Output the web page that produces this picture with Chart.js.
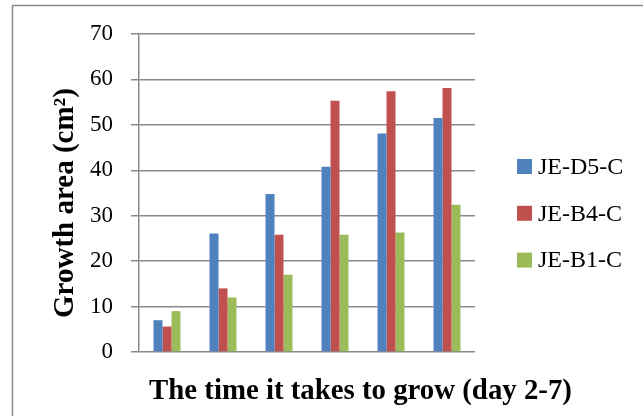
<!DOCTYPE html>
<html>
<head>
<meta charset="utf-8">
<script src="https://cdn.jsdelivr.net/npm/chart.js@4/dist/chart.umd.min.js"></script>
<style>
  html, body { margin: 0; padding: 0; background: #fff; }
  #c { display: block; }
</style>
</head>
<body>
<canvas id="c" width="643" height="416"></canvas>
<script>
// ---- data ----
const categories = ['Day 2', 'Day 3', 'Day 4', 'Day 5', 'Day 6', 'Day 7'];
const seriesNames = ['JE-D5-C', 'JE-B4-C', 'JE-B1-C'];
const jeD5 = [7.0, 26.1, 34.8, 40.8, 48.1, 51.5];
const jeB4 = [5.6, 14.0, 25.8, 55.3, 57.4, 58.1];
const jeB1 = [9.0, 12.0, 17.0, 25.8, 26.3, 32.4];
const yTicks = [0, 10, 20, 30, 40, 50, 60, 70];
const xTitle = 'The time it takes to grow (day 2-7)';
const yTitle = 'Growth area (cm\u00B2)';

const colors = ['#4F81BD', '#C0504D', '#9BBB59'];
const gridColor = '#8a8a8a';

function fitFont(ctx, text, weight, family, target) {
  ctx.font = weight + ' 20px ' + family;
  const w = ctx.measureText(text).width;
  return 20 * target / w;
}

const decor = {
  id: 'decor',
  beforeDraw(chart) {
    const ctx = chart.ctx;
    ctx.save();
    ctx.fillStyle = '#fff';
    ctx.fillRect(0, 0, chart.width, chart.height);
    ctx.strokeStyle = '#8c8c8c';
    ctx.lineWidth = 1.5;
    ctx.beginPath();
    ctx.moveTo(12.5, chart.height);
    ctx.lineTo(12.5, 5.5);
    ctx.lineTo(chart.width, 5.5);
    ctx.stroke();
    ctx.restore();
  },
  afterDraw(chart) {
    const ctx = chart.ctx;
    ctx.save();
    ctx.fillStyle = '#000';
    const fam = '"Liberation Serif", "Times New Roman", serif';
    // x title
    let fs = fitFont(ctx, xTitle, 'bold', fam, 423);
    ctx.font = 'bold ' + fs + 'px ' + fam;
    ctx.textAlign = 'center';
    ctx.textBaseline = 'alphabetic';
    ctx.fillText(xTitle, 360.5, 398.5);
    // y title
    ctx.font = 'bold 29px ' + fam;
    ctx.translate(73, 203);
    ctx.rotate(-Math.PI / 2);
    ctx.fillText(yTitle, 0, 0);
    ctx.setTransform(1, 0, 0, 1, 0, 0);
    // legend
    ctx.font = '24px ' + fam;
    ctx.textAlign = 'left';
    ctx.textBaseline = 'middle';
    chart.data.datasets.forEach((ds, i) => {
      const cy = 166.5 + 46.8 * i;
      ctx.fillStyle = ds.backgroundColor;
      ctx.fillRect(517, cy - 7.5, 15, 15);
      ctx.fillStyle = '#000';
      ctx.fillText(ds.label, 538, cy + 1);
    });
    ctx.restore();
  }
};

new Chart(document.getElementById('c'), {
  type: 'bar',
  data: {
    labels: categories,
    datasets: [
      { label: seriesNames[0], data: jeD5, backgroundColor: colors[0] },
      { label: seriesNames[1], data: jeB4, backgroundColor: colors[1] },
      { label: seriesNames[2], data: jeB1, backgroundColor: colors[2] }
    ]
  },
  options: {
    responsive: false,
    animation: false,
    devicePixelRatio: 1,
    categoryPercentage: 0.482,
    barPercentage: 1.0,
    layout: { padding: { left: 0, top: 34, right: 168, bottom: 0 } },
    plugins: { legend: { display: false }, tooltip: { enabled: false }, title: { display: false } },
    scales: {
      x: {
        grid: { display: false },
        border: { display: false },
        ticks: { display: false },
        afterFit(scale) { scale.height = 64; }
      },
      y: {
        min: yTicks[0],
        max: yTicks[yTicks.length - 1],
        afterBuildTicks(scale) { scale.ticks = yTicks.map(v => ({ value: v })); },
        ticks: {
          padding: 18,
          color: '#000',
          font: { family: '"Liberation Serif", "Times New Roman", serif', size: 23 }
        },
        grid: { color: gridColor, lineWidth: 1.5, tickLength: 8, tickColor: gridColor, drawTicks: true },
        border: { display: true, color: gridColor, width: 1.5 },
        afterFit(scale) { scale.width = 139; }
      }
    }
  },
  plugins: [decor]
});
</script>
</body>
</html>
